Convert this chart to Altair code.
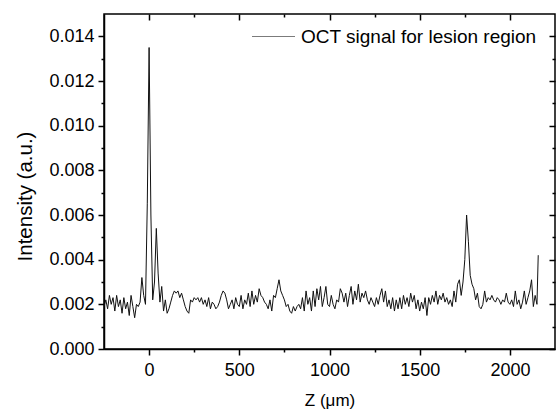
import altair as alt
import pandas as pd

# ---- data ----
z_um = list(range(-250, 2151, 10)) + [2157]
intensity_milli = [
    1.9, 2.2, 1.8, 2.4, 2.0, 2.3, 1.7, 2.4, 1.9, 2.2,   # -250 .. -160
    1.6, 2.3, 1.8, 2.1, 1.5, 2.4, 1.9, 1.4, 2.0, 1.9,   # -150 .. -60
    2.1, 3.2, 2.4, 2.0, 6.5, 13.5, 6.0, 2.2, 3.0, 5.4,  # -50 .. 40
    3.4, 2.1, 2.8, 1.7, 2.2, 1.6, 1.8, 2.1, 2.4, 2.6,   # 50 .. 140
    2.5, 2.6, 2.3, 2.5, 2.2, 1.9, 1.7, 1.6, 2.2, 2.1,   # 150 .. 240
    2.3, 2.2, 2.3, 2.1, 2.3, 2.0, 2.2, 1.9, 2.3, 1.8,   # 250 .. 340
    2.1, 2.0, 1.8, 1.9, 2.1, 2.4, 2.6, 2.5, 2.2, 1.8,   # 350 .. 440
    2.0, 2.2, 1.8, 2.3, 2.0, 1.9, 2.4, 1.8, 2.2, 2.0,   # 450 .. 540
    2.5, 1.9, 2.6, 2.0, 2.4, 2.1, 2.7, 2.4, 2.3, 2.1,   # 550 .. 640
    2.0, 1.8, 2.2, 1.7, 2.4, 2.3, 2.7, 3.1, 2.6, 2.4,   # 650 .. 740
    2.2, 1.9, 2.0, 1.7, 1.6, 1.9, 1.7, 1.9, 2.0, 1.8,   # 750 .. 840
    2.3, 1.7, 2.6, 2.0, 2.3, 1.7, 2.6, 1.9, 2.7, 2.2,   # 850 .. 940
    2.8, 1.9, 2.3, 2.8, 2.0, 1.9, 2.4, 2.0, 1.8, 2.2,   # 950 .. 1040
    2.1, 2.7, 2.5, 2.1, 2.5, 1.9, 2.4, 2.8, 2.0, 2.6,   # 1050 .. 1140
    2.2, 2.9, 2.1, 2.5, 2.3, 2.6, 2.2, 2.0, 2.3, 2.1,   # 1150 .. 1240
    1.9, 2.3, 2.0, 2.4, 2.7, 2.1, 2.6, 1.9, 2.2, 1.8,   # 1250 .. 1340
    2.3, 1.7, 2.2, 1.8, 2.3, 1.8, 2.4, 2.0, 2.3, 1.9,   # 1350 .. 1440
    2.5, 2.1, 2.4, 1.8, 2.2, 1.7, 2.1, 1.8, 2.3, 1.5,   # 1450 .. 1540
    2.3, 2.0, 2.4, 2.1, 2.6, 2.0, 2.4, 2.2, 2.5, 2.1,   # 1550 .. 1640
    2.3, 2.0, 2.2, 1.9, 2.6, 2.1, 2.9, 3.1, 2.4, 3.0,   # 1650 .. 1740
    4.0, 6.0, 4.8, 3.3, 2.9, 2.7, 2.2, 2.5, 1.9, 1.8,   # 1750 .. 1840
    2.0, 2.6, 2.1, 2.3, 2.2, 2.4, 2.2, 2.1, 2.3, 2.2,   # 1850 .. 1940
    2.0, 2.2, 2.1, 2.5, 2.1, 2.0, 2.2, 1.9, 2.6, 2.0,   # 1950 .. 2040
    2.2, 1.8, 2.1, 2.6, 2.0, 2.3, 2.6, 3.1, 1.9, 2.4,   # 2050 .. 2140
    2.0, 4.2,                                           # 2150, 2157
]
series_name = "OCT signal for lesion region"

x_tick_values = [0, 250, 500, 750, 1000, 1250, 1500, 1750, 2000]
y_tick_values = [0.000, 0.001, 0.002, 0.003, 0.004, 0.005, 0.006, 0.007,
                 0.008, 0.009, 0.010, 0.011, 0.012, 0.013, 0.014]
x_domain = [-250, 2250]
y_domain = [0.0, 0.015]

df = pd.DataFrame({
    "z": z_um,
    "intensity": [v / 1000.0 for v in intensity_milli],
    "series": series_name,
})

FONT = "Liberation Sans"
W, H = 451, 335

x_major_test = "datum.value % 500 === 0"
y_major_test = "round(datum.value * 1000) % 2 === 0"

x_scale = alt.Scale(domain=x_domain, nice=False, zero=False)
y_scale = alt.Scale(domain=y_domain, nice=False, zero=False)

bottom_axis = alt.Axis(
    orient="bottom", values=x_tick_values, grid=False,
    labelExpr=f"{x_major_test} ? format(datum.value, 'd') : ''",
    tickSize={"condition": {"test": x_major_test, "value": 6}, "value": 3},
    tickWidth=1.5, tickColor="black", domainColor="black", domainWidth=1.5,
    labelFont=FONT, labelFontSize=18, labelColor="black", labelPadding=6,
    title="Z (μm)", titleFont=FONT, titleFontSize=17, titleFontWeight="normal",
    titleColor="black", titlePadding=13,
)
left_axis = alt.Axis(
    orient="left", values=y_tick_values, grid=False,
    labelExpr=f"{y_major_test} ? format(datum.value, '.3f') : ''",
    tickSize={"condition": {"test": y_major_test, "value": 6}, "value": 3},
    tickWidth=1.5, tickColor="black", domainColor="black", domainWidth=1.5,
    labelFont=FONT, labelFontSize=18, labelColor="black", labelPadding=4,
    title="Intensity (a.u.)", titleFont=FONT, titleFontSize=20.5,
    titleFontWeight="normal", titleColor="black", titlePadding=13, titleY=182,
)
top_axis = alt.Axis(
    orient="bottom", offset=-H, values=x_tick_values, grid=False,
    labels=False, domain=False, title=None,
    tickSize={"condition": {"test": x_major_test, "value": 6}, "value": 3},
    tickWidth=1.5, tickColor="black",
)
right_axis = alt.Axis(
    orient="left", offset=-W, values=y_tick_values, grid=False,
    labels=False, domain=False, title=None,
    tickSize={"condition": {"test": y_major_test, "value": 6}, "value": 3},
    tickWidth=1.5, tickColor="black",
)

signal = alt.Chart(df).mark_line(strokeWidth=1.0, clip=True).encode(
    x=alt.X("z:Q", scale=x_scale, axis=bottom_axis),
    y=alt.Y("intensity:Q", scale=y_scale, axis=left_axis),
    color=alt.Color(
        "series:N",
        scale=alt.Scale(range=["#111111"]),
        legend=alt.Legend(
            orient="none", legendX=147, legendY=0, title=None,
            symbolType="stroke", symbolSize=1849, symbolStrokeWidth=1.2,
            symbolStrokeColor="#888888", symbolOpacity=0.55,
            labelFont=FONT, labelFontSize=19, labelLimit=400,
            labelColor="black", labelOffset=5, padding=0,
        ),
    ),
)

frame_ticks = alt.Chart(df).mark_line(opacity=0).encode(
    x=alt.X("z:Q", scale=x_scale, axis=top_axis),
    y=alt.Y("intensity:Q", scale=y_scale, axis=right_axis),
)

chart = (
    alt.layer(signal, frame_ticks)
    .resolve_axis(x="independent", y="independent")
    .properties(
        width=W, height=H,
        autosize=alt.AutoSizeParams(type="none"),
        padding={"left": 104, "top": 14, "right": 1, "bottom": 65},
        background="white",
    )
    .configure_view(stroke="black", strokeWidth=1.5)
)

chart.save("out.html", embed_options={"renderer": "svg", "actions": False})
